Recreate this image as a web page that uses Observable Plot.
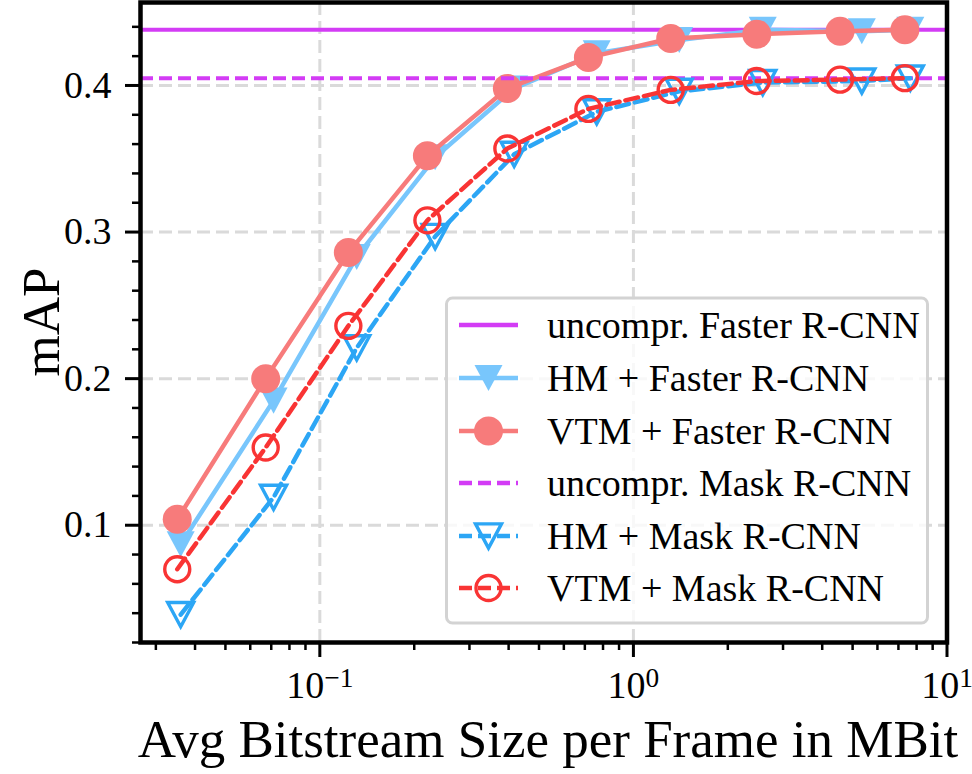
<!DOCTYPE html>
<html><head><meta charset="utf-8">
<script src="https://cdn.jsdelivr.net/npm/d3@7"></script>
<script src="https://cdn.jsdelivr.net/npm/@observablehq/plot@0.6"></script>
<style>
html,body{margin:0;padding:0;background:#fff;}
#chart{position:relative;width:972px;height:774px;}
</style></head><body><div id="chart"></div>
<script>
// ---- data ----
const seriesNames = ["uncompr. Faster R-CNN","HM + Faster R-CNN","VTM + Faster R-CNN","uncompr. Mask R-CNN","HM + Mask R-CNN","VTM + Mask R-CNN"];
const hmBitrate  = [0.0360, 0.0712, 0.1311, 0.2332, 0.4166, 0.7638, 1.40, 2.585, 5.35, 7.64];
const vtmBitrate = [0.0351, 0.0672, 0.1233, 0.2203, 0.3963, 0.7185, 1.315, 2.474, 4.56, 7.34];
const hmFaster  = [0.087, 0.185, 0.283, 0.351, 0.398, 0.422, 0.431, 0.438, 0.437, 0.438];
const vtmFaster = [0.104, 0.200, 0.286, 0.352, 0.398, 0.419, 0.432, 0.435, 0.437, 0.438];
const hmMask    = [0.039, 0.119, 0.221, 0.297, 0.353, 0.382, 0.396, 0.402, 0.403, 0.405];
const vtmMask   = [0.070, 0.153, 0.236, 0.308, 0.357, 0.384, 0.397, 0.403, 0.404, 0.405];
const uncomprFaster = 0.438;
const uncomprMask = 0.405;
const xMajorTicks = [0.1, 1, 10];
const xMajorLabels = ["10^\u22121", "10^0", "10^1"];
const xMinorTicks = [0.03,0.04,0.05,0.06,0.07,0.08,0.09,0.2,0.3,0.4,0.5,0.6,0.7,0.8,0.9,2,3,4,5,6,7,8,9];
const yMajorTicks = [0.1, 0.2, 0.3, 0.4];
const yMinorTicks = [0.02,0.04,0.06,0.08,0.12,0.14,0.16,0.18,0.22,0.24,0.26,0.28,0.32,0.34,0.36,0.38,0.42,0.44];
const xLabel = "Avg Bitstream Size per Frame in MBit";
const yLabel = "mAP";

// ---- styles ----
const cPurple = "#D33CF5", cHMF = "#78C6FC", cVTMF = "#F77B7B", cHMM = "#2CA6F5", cVTMM = "#F93434";
const FONT = "'Liberation Serif', 'Times New Roman', serif";

const toRows = (xs, ys) => xs.map((x, i) => ({x, y: ys[i]}));
const dHMF = toRows(hmBitrate, hmFaster);
const dVTMF = toRows(vtmBitrate, vtmFaster);
const dHMM = toRows(hmBitrate, hmMask);
const dVTMM = toRows(vtmBitrate, vtmMask);

const triDown = {
  draw(ctx, size) {
    const r = Math.sqrt(size / Math.PI);
    const h = r * 0.93;
    ctx.moveTo(-r, -h); ctx.lineTo(r, -h); ctx.lineTo(0, h); ctx.closePath();
  }
};

const gridStyle = {stroke: "#dadada", strokeOpacity: 1, strokeWidth: 3, strokeDasharray: "13,6"};
const dash = "13,6";
const LW = 4.5;

const plot = Plot.plot({
  width: 972, height: 774,
  marginLeft: 140, marginRight: 25.5, marginTop: 2, marginBottom: 132,
  x: {type: "log", domain: [0.0268, 10]},
  y: {domain: [0.02, 0.4566]},
  style: {fontFamily: FONT, fontSize: "38px", color: "black", background: "white"},
  marks: [
    Plot.gridX(xMajorTicks, gridStyle),
    Plot.gridY(yMajorTicks, gridStyle),
    Plot.ruleY([uncomprFaster], {stroke: cPurple, strokeWidth: 4}),
    Plot.line(dHMF, {x: "x", y: "y", stroke: cHMF, strokeWidth: LW}),
    Plot.dot(dHMF, {x: "x", y: "y", fill: cHMF, r: 14, symbol: triDown}),
    Plot.line(dVTMF, {x: "x", y: "y", stroke: cVTMF, strokeWidth: LW}),
    Plot.dot(dVTMF, {x: "x", y: "y", fill: cVTMF, r: 14.5}),
    Plot.ruleY([uncomprMask], {stroke: cPurple, strokeWidth: 4, strokeDasharray: "13,6"}),
    Plot.line(dHMM, {x: "x", y: "y", stroke: cHMM, strokeWidth: LW, strokeDasharray: dash}),
    Plot.dot(dHMM, {x: "x", y: "y", fill: "none", stroke: cHMM, strokeWidth: 3.4, r: 13, symbol: triDown}),
    Plot.line(dVTMM, {x: "x", y: "y", stroke: cVTMM, strokeWidth: LW, strokeDasharray: dash}),
    Plot.dot(dVTMM, {x: "x", y: "y", fill: "none", stroke: cVTMM, strokeWidth: 3.4, r: 12.5}),
    Plot.axisX(xMinorTicks, {tickSize: 8, tickFormat: () => "", strokeWidth: 2.5, label: null}),
    Plot.axisX(xMajorTicks, {tickSize: 15, tickPadding: 14, strokeWidth: 3, label: null,
      tickFormat: (d) => xMajorLabels[xMajorTicks.indexOf(d)]}),
    Plot.axisY(yMinorTicks, {tickSize: 8, tickFormat: () => "", strokeWidth: 2.5, label: null}),
    Plot.axisY(yMajorTicks, {tickSize: 15, tickPadding: 14, strokeWidth: 3, label: null,
      tickFormat: d3.format(".1f")}),
    Plot.frame({stroke: "black", strokeWidth: 4.5})
  ]
});

document.getElementById("chart").appendChild(plot);
const svg = d3.select(plot);

// superscript exponents on the log axis labels
svg.selectAll('g[aria-label="x-axis tick label"] text').each(function() {
  const t = this.textContent;
  if (!t || t.indexOf("^") < 0) return;
  const [base, exp] = t.split("^");
  const s = d3.select(this);
  s.text(base);
  s.append("tspan").attr("dy", "-0.42em").attr("font-size", "0.72em").text(exp);
});

// axis titles
svg.append("text").attr("x", 548).attr("y", 757).attr("text-anchor", "middle")
  .attr("font-family", FONT).attr("font-size", 53).attr("fill", "black").text(xLabel);
svg.append("text").attr("transform", "translate(59,322) rotate(-90)").attr("text-anchor", "middle")
  .attr("font-family", FONT).attr("font-size", 53).attr("fill", "black").text(yLabel);

// legend
const lg = svg.append("g").attr("text-anchor", "start");
lg.append("rect").attr("x", 446.5).attr("y", 298).attr("width", 481).attr("height", 325).attr("rx", 6)
  .attr("fill", "white").attr("fill-opacity", 0.8).attr("stroke", "#d3d3d3").attr("stroke-width", 3);
const rowsY = [325, 378, 431, 483, 536, 588];
const entries = [
  {color: cPurple, dash: null, marker: null},
  {color: cHMF, dash: null, marker: "tri", filled: true, r: 14},
  {color: cVTMF, dash: null, marker: "circle", filled: true, r: 14.5},
  {color: cPurple, dash: "13,6", marker: null},
  {color: cHMM, dash: "13,6", marker: "tri", filled: false, r: 13},
  {color: cVTMM, dash: "13,6", marker: "circle", filled: false, r: 12.5}
];
entries.forEach((e, i) => {
  const y = rowsY[i];
  const g = lg.append("g");
  g.append("line").attr("x1", 459).attr("x2", 518).attr("y1", y).attr("y2", y)
    .attr("stroke", e.color).attr("stroke-width", LW).attr("stroke-dasharray", e.dash);
  if (e.marker) {
    const sym = d3.symbol().type(e.marker === "tri" ? triDown : d3.symbolCircle).size(Math.PI * e.r * e.r);
    g.append("path").attr("d", sym()).attr("transform", `translate(488.5,${y})`)
      .attr("fill", e.filled ? e.color : "none").attr("stroke", e.filled ? "none" : e.color)
      .attr("stroke-width", 3.4);
  }
  g.append("text").attr("x", 547).attr("y", y).attr("dy", "0.35em").attr("text-anchor", "start")
    .attr("font-family", FONT).attr("font-size", 38).attr("fill", "black").text(seriesNames[i]);
});
</script>
</body></html>
